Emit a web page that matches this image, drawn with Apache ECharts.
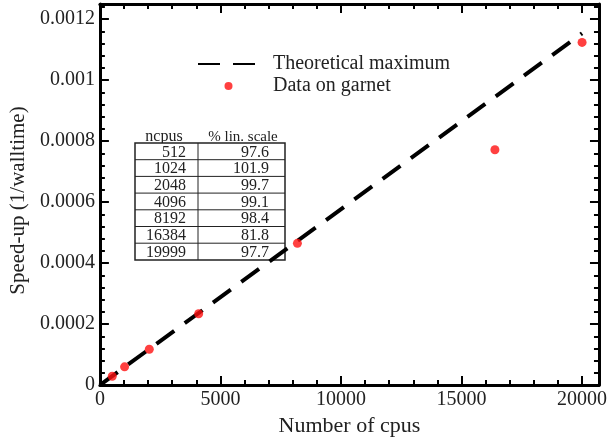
<!DOCTYPE html>
<html>
<head>
<meta charset="utf-8">
<script src="https://cdn.jsdelivr.net/npm/echarts@6/dist/echarts.min.js"></script>
<style>
  html, body { margin: 0; padding: 0; background: #fff; }
  #chart { width: 610px; height: 442px; }
</style>
</head>
<body>
<div id="chart"></div>
<script>
// measured runs on garnet
var ncpus = [512, 1024, 2048, 4096, 8192, 16384, 19999]
var speedup = [2.9e-5, 6.0e-5, 1.175e-4, 2.34e-4, 4.65e-4, 7.72e-4, 1.124e-3]
var linScale = ['97.6', '101.9', '99.7', '99.1', '98.4', '81.8', '97.7']
// theoretical maximum (linear)
var theoX = [0, 20000]
var theoY = [0, 1.154e-3]

var serif = 'Liberation Serif'

// small table drawn over the plot
var tableRows = []
var tTop = 143, rowH = 16.7
ncpus.forEach(function (n, i) {
  var y = tTop + i * rowH
  if (i > 0) {
    tableRows.push({ type: 'line', shape: { x1: 135, y1: y, x2: 285, y2: y }, style: { stroke: '#222', lineWidth: 1 } })
  }
  tableRows.push({ type: 'text', x: 186, y: y + rowH / 2 + 1, style: { text: String(n), font: '16px ' + serif, fill: '#222', align: 'right', verticalAlign: 'middle' } })
  tableRows.push({ type: 'text', x: 269, y: y + rowH / 2 + 1, style: { text: linScale[i], font: '16px ' + serif, fill: '#222', align: 'right', verticalAlign: 'middle' } })
})

var chart = echarts.init(document.getElementById('chart'))

function ticks () {
  return {
    axisLine: { onZero: false, lineStyle: { color: '#000', width: 3 } },
    axisTick: { inside: true, length: 9, lineStyle: { color: '#000', width: 2 } },
    minorTick: { show: true, splitNumber: 5, length: 5, lineStyle: { color: '#000', width: 2 } },
    splitLine: { show: false }
  }
}

chart.setOption({
  animation: false,
  grid: { left: 97, top: 4, right: 8, bottom: 53, containLabel: false },
  legend: {
    left: 192, top: 49, orient: 'vertical',
    itemWidth: 61, itemHeight: 8, itemGap: 2,
    textStyle: { fontFamily: serif, fontSize: 20, lineHeight: 20, color: '#222', padding: [0, 0, 0, 9] },
    data: [
      { name: 'Theoretical maximum', itemStyle: { opacity: 0 } },
      'Data on garnet'
    ]
  },
  xAxis: [
    Object.assign(ticks(), {
      type: 'value', min: 0, max: 20700, interval: 5000,
      name: 'Number of cpus', nameLocation: 'middle', nameGap: 27,
      nameTextStyle: { fontFamily: serif, fontSize: 22, color: '#222' },
      axisLabel: {
        fontFamily: serif, fontSize: 20, color: '#222', margin: 5, showMaxLabel: false,
        formatter: function (v) { return String(v) }
      }
    }),
    Object.assign(ticks(), {
      type: 'value', min: 0, max: 20700, interval: 5000, position: 'top',
      axisLabel: { show: false }
    })
  ],
  yAxis: [
    Object.assign(ticks(), {
      type: 'value', min: 0, max: 0.00125, interval: 0.0002,
      name: 'Speed-up (1/walltime)', nameLocation: 'middle', nameGap: 69,
      nameTextStyle: { fontFamily: serif, fontSize: 21, color: '#222', padding: [0, 12, 0, 0] },
      axisLabel: {
        fontFamily: serif, fontSize: 20, color: '#222', margin: 5, showMaxLabel: false,
        formatter: function (v) { return String(+v.toFixed(4)) }
      }
    }),
    Object.assign(ticks(), {
      type: 'value', min: 0, max: 0.00125, interval: 0.0002, position: 'right',
      axisLabel: { show: false }
    })
  ],
  series: [
    {
      name: 'Theoretical maximum', type: 'line', showSymbol: false, symbol: 'none',
      data: theoX.map(function (x, i) { return [x, theoY[i]] }),
      lineStyle: { color: '#000', width: 4, type: [22, 13] },
      itemStyle: { color: '#000' },
      z: 2
    },
    {
      name: 'Data on garnet', type: 'scatter', symbolSize: 9,
      data: ncpus.map(function (x, i) { return [x, speedup[i]] }),
      itemStyle: { color: '#ff1010' },
      z: 3
    }
  ],
  graphic: [
    { type: 'text', x: 164, y: 137, style: { text: 'ncpus', font: '16px ' + serif, fill: '#222', align: 'center', verticalAlign: 'middle' } },
    { type: 'text', x: 243, y: 137, style: { text: '% lin. scale', font: '15px ' + serif, fill: '#222', align: 'center', verticalAlign: 'middle' } },
    { type: 'rect', shape: { x: 135, y: tTop, width: 150, height: rowH * 7 }, style: { fill: '#fff', stroke: '#222', lineWidth: 1.5 } },
    { type: 'line', shape: { x1: 198, y1: tTop, x2: 198, y2: tTop + rowH * 7 }, style: { stroke: '#222', lineWidth: 1 } }
  ].concat(tableRows)
})
</script>
</body>
</html>
